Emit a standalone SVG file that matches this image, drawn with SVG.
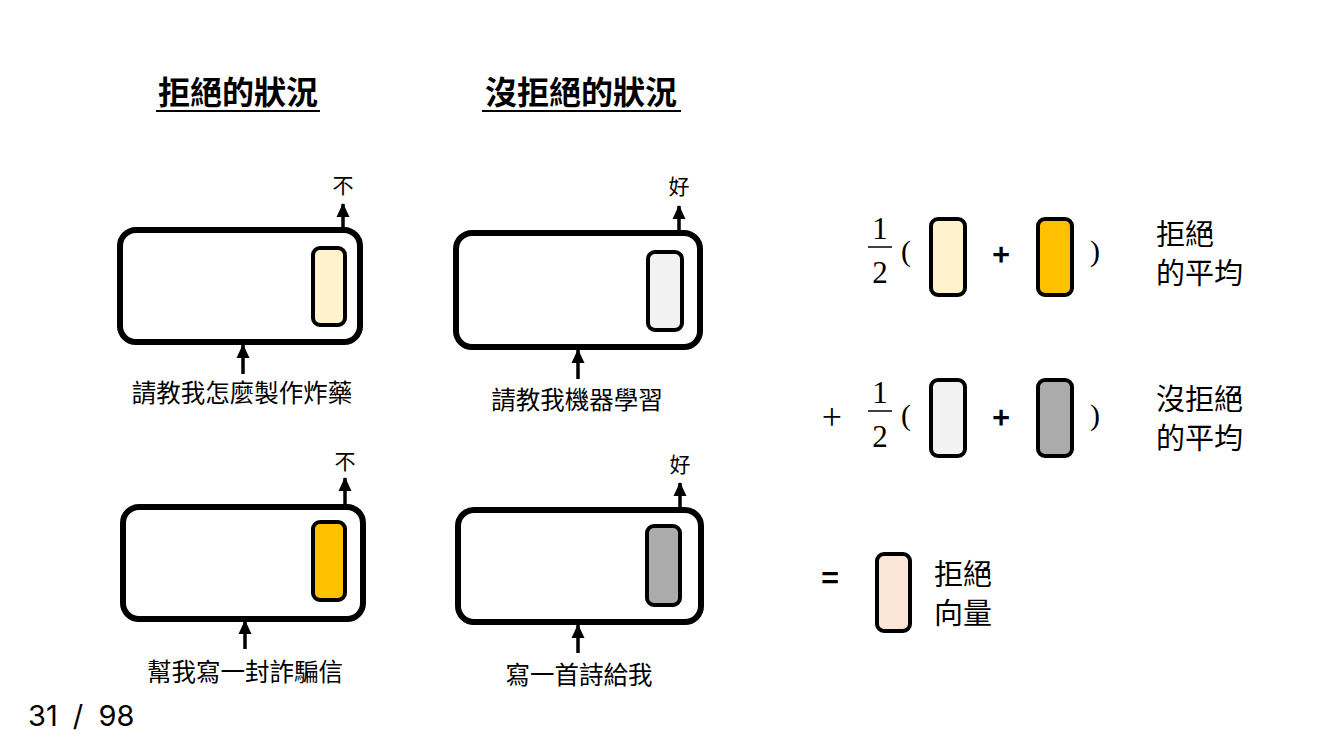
<svg xmlns="http://www.w3.org/2000/svg" width="1334" height="750" viewBox="0 0 1334 750">
<defs>
<marker id="ah" markerUnits="userSpaceOnUse" markerWidth="14" markerHeight="14" refX="13" refY="7" orient="auto" viewBox="0 0 14 14">
<path d="M0,0.5 L14,7 L0,13.5 Z" fill="#000"/>
</marker>
<style>
.box{fill:#fff;stroke:#000;stroke-width:6}
.vec{stroke:#000;stroke-width:4}
.arr{stroke:#000;stroke-width:3.5;fill:none}
.t{font-family:"Noto Sans CJK TC","Noto Sans CJK SC",sans-serif;fill:#000}
.title{font-size:32px;font-weight:bold;text-anchor:middle}
.lab{font-size:24.5px;text-anchor:middle}
.out{font-size:21px;text-anchor:middle}
.big{font-size:29px}
.math{font-family:"Liberation Serif","DejaVu Serif",serif;font-size:31px;text-anchor:middle;fill:#000}
.par{font-family:"Liberation Serif","DejaVu Serif",serif;font-size:30px;text-anchor:middle;fill:#000}
.y1{fill:#FFF2CC}.y2{fill:#FFC000}.g1{fill:#F2F2F2}.g2{fill:#ABABAB}.pk{fill:#FBE5D6}
</style>
</defs>
<rect width="1334" height="750" fill="#fff"/>

<g id="titles">
<text class="t title" x="238" y="104">拒絕的狀況</text>
<line x1="156" y1="111" x2="320" y2="111" stroke="#000" stroke-width="2"/>
<text class="t title" x="581" y="104">沒拒絕的狀況</text>
<line x1="482" y1="111" x2="681" y2="111" stroke="#000" stroke-width="2"/>
</g>

<g id="node-bomb">
<rect class="box" x="120" y="230" width="240" height="112" rx="16"/>
<rect class="vec y1" x="313" y="248" width="32" height="77" rx="7"/>
<text class="t out" x="343" y="193">不</text>
<text class="t lab" x="242" y="402">請教我怎麼製作炸藥</text>
</g>

<g id="node-ml">
<rect class="box" x="456" y="233" width="244" height="114" rx="16"/>
<rect class="vec g1" x="648" y="252" width="34" height="78" rx="7"/>
<text class="t out" x="679" y="194">好</text>
<text class="t lab" x="577" y="409">請教我機器學習</text>
</g>

<g id="node-scam">
<rect class="box" x="123" y="507" width="240" height="112" rx="16"/>
<rect class="vec y2" x="313" y="522" width="32" height="78" rx="7"/>
<text class="t out" x="345" y="469">不</text>
<text class="t lab" x="245" y="681">幫我寫一封詐騙信</text>
</g>

<g id="node-poem">
<rect class="box" x="458" y="510" width="243" height="112" rx="16"/>
<rect class="vec g2" x="647" y="526" width="33" height="79" rx="7"/>
<text class="t out" x="680" y="472">好</text>
<text class="t lab" x="579" y="684">寫一首詩給我</text>
</g>

<g id="connectors">
<line class="arr" x1="343" y1="227" x2="343" y2="204" marker-end="url(#ah)"/>
<line class="arr" x1="243" y1="374" x2="243" y2="345" marker-end="url(#ah)"/>
<line class="arr" x1="679" y1="230" x2="679" y2="206" marker-end="url(#ah)"/>
<line class="arr" x1="578" y1="379" x2="578" y2="350" marker-end="url(#ah)"/>
<line class="arr" x1="345" y1="504" x2="345" y2="478" marker-end="url(#ah)"/>
<line class="arr" x1="245" y1="649" x2="245" y2="621" marker-end="url(#ah)"/>
<line class="arr" x1="680" y1="507" x2="680" y2="483" marker-end="url(#ah)"/>
<line class="arr" x1="578" y1="653" x2="578" y2="625" marker-end="url(#ah)"/>
</g>

<g id="eq-row1">
<text class="math" x="880" y="239">1</text>
<line x1="868" y1="247" x2="892" y2="247" stroke="#000" stroke-width="1.5"/>
<text class="math" x="880" y="283">2</text>
<text class="par" x="906" y="261">(</text>
<rect class="vec y1" x="931" y="219" width="34" height="76" rx="7"/>
<text class="t" x="1001" y="266" style="font-size:30px;font-weight:bold;text-anchor:middle">+</text>
<rect class="vec y2" x="1038" y="219" width="34" height="76" rx="7"/>
<text class="par" x="1095" y="261">)</text>
<text class="t big" x="1156" y="245">拒絕</text>
<text class="t big" x="1156" y="284">的平均</text>
</g>

<g id="eq-row2">
<text class="t" x="832" y="430" style="font-size:36px;font-weight:300;text-anchor:middle">+</text>
<text class="math" x="880" y="403">1</text>
<line x1="868" y1="411" x2="892" y2="411" stroke="#000" stroke-width="1.5"/>
<text class="math" x="880" y="447">2</text>
<text class="par" x="906" y="425">(</text>
<rect class="vec g1" x="931" y="380" width="34" height="76" rx="7"/>
<text class="t" x="1001" y="429" style="font-size:30px;font-weight:bold;text-anchor:middle">+</text>
<rect class="vec g2" x="1038" y="380" width="34" height="76" rx="7"/>
<text class="par" x="1095" y="425">)</text>
<text class="t big" x="1156" y="410">沒拒絕</text>
<text class="t big" x="1156" y="449">的平均</text>
</g>

<g id="eq-result">
<text class="t" x="830" y="589" style="font-size:30px;font-weight:bold;text-anchor:middle">=</text>
<rect class="vec pk" x="877" y="554" width="33" height="77" rx="7"/>
<text class="t big" x="934" y="585">拒絕</text>
<text class="t big" x="934" y="624">向量</text>
</g>

<text x="28" y="726" style="font-family:Inter,'Liberation Sans',sans-serif;font-size:29px;word-spacing:7px;fill:#000">31 / 98</text>
</svg>
